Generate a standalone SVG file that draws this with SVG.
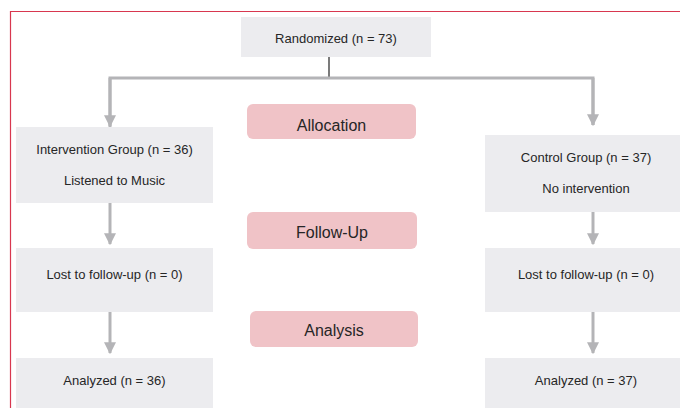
<svg xmlns="http://www.w3.org/2000/svg" width="680" height="408" viewBox="0 0 680 408">
<defs>
<style>
.box{fill:#ececef}
.stage{fill:#f0c3c7}
.t{font-family:"Liberation Sans",Arial,sans-serif;font-size:13px;fill:#262626;text-anchor:middle}
.s{font-family:"Liberation Sans",Arial,sans-serif;font-size:16px;fill:#262626;text-anchor:middle}
.c{stroke:#b4b4b7;stroke-width:3;fill:none}
</style>
<marker id="ah" viewBox="0 0 10 10" refX="9" refY="5" markerWidth="4" markerHeight="4" markerUnits="strokeWidth" orient="auto">
<path d="M0,0 L10,5 L0,10 z" fill="#b4b4b7"/>
</marker>
</defs>
<rect width="680" height="408" fill="#ffffff"/>
<path d="M10.5,408 V11.5 H680" fill="none" stroke="#d8374f" stroke-width="1.2"/>
<g id="connectors">
<line x1="329" y1="57" x2="329" y2="78" stroke="#222" stroke-width="1.2"/>
<path class="c" d="M110,127 V78 H593 V125"/>
<path class="c" d="M110,78 V126" marker-end="url(#ah)"/>
<path class="c" d="M593,78 V125" marker-end="url(#ah)"/>
<path class="c" d="M110,203 V244" marker-end="url(#ah)"/>
<path class="c" d="M110,312 V353" marker-end="url(#ah)"/>
<path class="c" d="M593,208 V244" marker-end="url(#ah)"/>
<path class="c" d="M593,312 V353" marker-end="url(#ah)"/>
</g>
<g id="randomized"><rect class="box" x="241" y="17" width="190" height="40"/><text class="t" x="336" y="43">Randomized (n = 73)</text></g>
<g id="allocation"><rect class="stage" x="247" y="104" width="169" height="35" rx="6"/><text class="s" x="331.5" y="130.5">Allocation</text></g>
<g id="followup"><rect class="stage" x="247" y="212" width="170" height="37" rx="6"/><text class="s" x="332" y="238">Follow-Up</text></g>
<g id="analysis"><rect class="stage" x="250" y="311" width="168" height="36" rx="6"/><text class="s" x="334" y="336">Analysis</text></g>
<g id="intervention"><rect class="box" x="16" y="127" width="197" height="76"/><text class="t" x="114.5" y="154">Intervention Group (n = 36)</text><text class="t" x="114.5" y="185">Listened to Music</text></g>
<g id="control"><rect class="box" x="485" y="135" width="202" height="77"/><text class="t" x="586" y="162">Control Group (n = 37)</text><text class="t" x="586" y="193">No intervention</text></g>
<g id="lost-left"><rect class="box" x="16" y="248" width="197" height="64"/><text class="t" x="114.5" y="279">Lost to follow-up (n = 0)</text></g>
<g id="lost-right"><rect class="box" x="485" y="248" width="202" height="64"/><text class="t" x="586" y="279">Lost to follow-up (n = 0)</text></g>
<g id="analyzed-left"><rect class="box" x="16" y="358" width="197" height="50"/><text class="t" x="114.5" y="385">Analyzed (n = 36)</text></g>
<g id="analyzed-right"><rect class="box" x="485" y="358" width="202" height="50"/><text class="t" x="586" y="385">Analyzed (n = 37)</text></g>
</svg>
